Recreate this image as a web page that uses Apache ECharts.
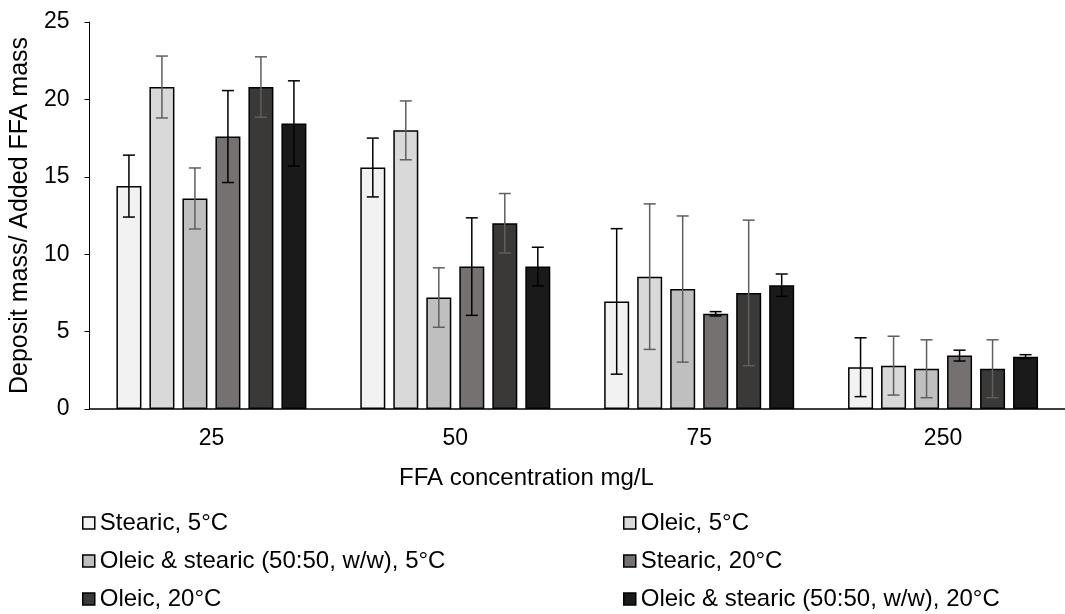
<!DOCTYPE html>
<html>
<head>
<meta charset="utf-8">
<script src="https://cdn.jsdelivr.net/npm/echarts@6/dist/echarts.min.js"></script>
<style>
  html, body { margin: 0; padding: 0; background: #fff; }
  #main { width: 1065px; height: 614px; }
</style>
</head>
<body>
<div id="main"></div>
<script>
var categories = ['25', '50', '75', '250'];
var seriesNames = [
  'Stearic, 5°C',
  'Oleic, 5°C',
  'Oleic & stearic (50:50, w/w), 5°C',
  'Stearic, 20°C',
  'Oleic, 20°C',
  'Oleic & stearic (50:50, w/w), 20°C'
];
// mean values per series (one value per concentration)
var stearic5 = [14.4, 15.6, 6.95, 2.7];
var oleic5 = [20.8, 18.0, 8.55, 2.8];
var mix5 = [13.6, 7.2, 7.75, 2.6];
var stearic20 = [17.6, 9.2, 6.15, 3.45];
var oleic20 = [20.8, 12.0, 7.5, 2.6];
var mix20 = [18.45, 9.2, 8.0, 3.38];
// standard deviations (error bars)
var stearic5Err = [2.0, 1.9, 4.7, 1.9];
var oleic5Err = [2.0, 1.9, 4.7, 1.9];
var mix5Err = [1.97, 1.92, 4.72, 1.87];
var stearic20Err = [2.97, 3.15, 0.14, 0.35];
var oleic20Err = [1.95, 1.92, 4.7, 1.87];
var mix20Err = [2.75, 1.25, 0.72, 0.13];

var values = [stearic5, oleic5, mix5, stearic20, oleic20, mix20];
var errors = [stearic5Err, oleic5Err, mix5Err, stearic20Err, oleic20Err, mix20Err];
var colors = ['#f2f2f2', '#d9d9d9', '#bfbfbf', '#767171', '#3b3838', '#1a1a1a'];
var errColors = ['#000000', '#5f5f5f', '#5f5f5f', '#000000', '#5f5f5f', '#000000'];

var font = 'Liberation Sans, Arial, sans-serif';
var barW = 25;
var pitch = 33;

var myChart = echarts.init(document.getElementById('main'));

var series = [];
values.forEach(function (vals, i) {
  series.push({
    name: seriesNames[i],
    type: 'bar',
    barWidth: barW,
    barGap: ((pitch - barW) / barW * 100) + '%',
    itemStyle: { color: colors[i], borderColor: '#000', borderWidth: 1.5 },
    data: vals,
    z: 2
  });
});
// error bars, drawn at the centre of each grouped bar
values.forEach(function (vals, i) {
  var data = vals.map(function (v, k) { return [k, v, errors[i][k]]; });
  series.push({
    name: seriesNames[i],
    type: 'custom',
    z: 5,
    silent: true,
    renderItem: function (params, api) {
      var k = api.value(0);
      var m = api.value(1);
      var e = api.value(2);
      var hi = api.coord([k, m + e]);
      var lo = api.coord([k, m - e]);
      var x = hi[0] + (i - 2.5) * pitch;
      var half = 6;
      var st = { stroke: errColors[i], lineWidth: 1.5 };
      return {
        type: 'group',
        children: [
          { type: 'line', shape: { x1: x, y1: hi[1], x2: x, y2: lo[1] }, style: st },
          { type: 'line', shape: { x1: x - half, y1: hi[1], x2: x + half, y2: hi[1] }, style: st },
          { type: 'line', shape: { x1: x - half, y1: lo[1], x2: x + half, y2: lo[1] }, style: st }
        ]
      };
    },
    data: data
  });
});

var legendBase = {
  orient: 'vertical',
  icon: 'rect',
  padding: 0,
  itemWidth: 12,
  itemHeight: 12,
  itemGap: 14,
  top: 511,
  selectedMode: false,
  textStyle: { color: '#000', fontSize: 24, lineHeight: 24, fontFamily: font },
  itemStyle: { borderColor: '#000', borderWidth: 1.5 }
};

var option = {
  backgroundColor: '#fff',
  animation: false,
  textStyle: { fontFamily: font },
  grid: { left: 89, right: -6, top: 22, bottom: 205 },
  legend: [
    Object.assign({}, legendBase, { left: 82, data: [seriesNames[0], seriesNames[2], seriesNames[4]] }),
    Object.assign({}, legendBase, { left: 623, data: [seriesNames[1], seriesNames[3], seriesNames[5]] })
  ],
  xAxis: {
    type: 'category',
    data: categories,
    axisLine: { lineStyle: { color: '#000', width: 1.5 } },
    axisTick: { alignWithLabel: true, length: 5, lineStyle: { color: '#000' } },
    axisLabel: { color: '#000', fontSize: 23, margin: 18 }
  },
  yAxis: {
    type: 'value',
    min: 0,
    max: 25,
    interval: 5,
    name: 'Deposit mass/ Added FFA mass',
    nameLocation: 'middle',
    nameGap: 56,
    nameTextStyle: { color: '#000', fontSize: 25 },
    axisLine: { show: true, lineStyle: { color: '#000', width: 1 } },
    axisTick: { show: true, length: 5, lineStyle: { color: '#000' } },
    splitLine: { show: false },
    axisLabel: { color: '#000', fontSize: 23, margin: 20 }
  },
  graphic: [{
    type: 'text',
    left: 399,
    top: 466,
    style: { text: 'FFA concentration mg/L', fill: '#000', fontSize: 24, fontFamily: font }
  }],
  series: series
};

myChart.setOption(option);
</script>
</body>
</html>
